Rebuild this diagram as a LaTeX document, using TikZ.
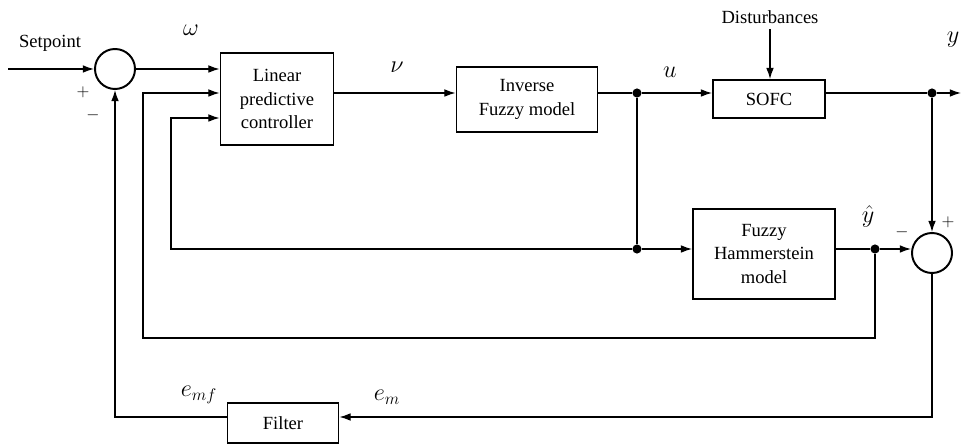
\documentclass[tikz,border=0pt]{standalone}
\usepackage{fontspec}
\setmainfont{Liberation Serif}
\usetikzlibrary{arrows.meta}

\tikzset{
  block/.style={draw, line width=1.3pt, align=center, inner sep=0pt,
    font=\fontsize{13.2}{16.6}\selectfont},
  sumnode/.style={draw, circle, line width=1.4pt, minimum size=1cm, inner sep=0pt},
  dot/.style={circle, fill, minimum size=6.5pt, inner sep=0pt},
  arr/.style={-{Latex[length=8pt,width=5.5pt]}},
  sig/.style={font=\fontsize{17}{20}\selectfont},
  txt/.style={font=\fontsize{13.2}{16}\selectfont},
  sgn/.style={font=\fontsize{12}{14}\selectfont}
}

\begin{document}
\begin{tikzpicture}[x=0.025cm, y=-0.025cm, line width=0.9pt]
    \useasboundingbox (0,0) rectangle (961,446);

    % Forward path
    \coordinate (sp) at (8,69);
    \node[sumnode] (sum1) at (115,69) {};
    \node[block, minimum width=2.825cm, minimum height=2.3cm] (lpc) at (277,99) {Linear\\predictive\\controller};
    \node[block, minimum width=3.525cm, minimum height=1.625cm] (inv) at (527,99.5) {Inverse\\Fuzzy model};
    \node[dot] (d1) at (637,93) {};
    \node[block, minimum width=2.8cm, minimum height=0.95cm] (sofc) at (769,99) {SOFC};
    \node[dot] (d2) at (932,93) {};
    \coordinate (yout) at (961,93);
    \node[txt] (dist) at (770,17) {Disturbances};

    % Model path
    \node[block, minimum width=3.55cm, minimum height=2.25cm] (fhm) at (764,254) {Fuzzy\\Hammerstein\\model};
    \node[dot] (d3) at (637,249) {};
    \node[dot] (d4) at (875,249) {};
    \node[sumnode] (sum2) at (932,253) {};

    % Filter
    \node[block, minimum width=2.775cm, minimum height=1cm] (filt) at (283,423) {Filter};

    % Corner points of the loops
    \coordinate (l2) at (143,93);
    \coordinate (l3) at (171,118);
    \coordinate (b2) at (875,338);
    \coordinate (b1) at (932,417);

    % Connections
    \draw[arr] (sp) -- (sum1);
    \draw[arr] (sum1) -- (sum1 -| lpc.west);
    \draw[arr] (lpc.east |- d1) -- (inv.west |- d1);
    \draw (inv.east |- d1) -- (d1);
    \draw[arr] (d1) -- (sofc.west |- d1);
    \draw (sofc.east |- d1) -- (d2);
    \draw[arr] (d2) -- (yout);
    \draw[arr] (dist.south) -- (dist.south |- sofc.north);
    \draw[arr] (d2) -- (sum2);
    \draw (d1) -- (d3);
    \draw[arr] (d3) -- (d3 -| fhm.west);
    \draw (fhm.east |- d3) -- (d4);
    \draw[arr] (d4) -- (d4 -| sum2.west);
    \draw[arr] (d3) -| (l3) -- (l3 -| lpc.west);
    \draw[arr] (d4) -- (b2) -| (l2) -- (l2 -| lpc.west);
    \draw[arr] (sum2) -- (b1) -- (b1 -| filt.east);
    \draw[arr] (filt.west |- b1) -| (sum1.south);

    % Labels
    \node[txt] at (50,43) {Setpoint};
    \node[sig] at (191,30) {$\omega$};
    \node[sig] at (397,67) {$\nu$};
    \node[sig] at (670,72) {$u$};
    \node[sig] at (953,40) {$y$};
    \node[sig] at (868,216) {$\hat{y}$};
    \node[sig] at (199,395) {$e_{mf}$};
    \node[sig] at (387,397) {$e_{m}$};
    \node[sgn] at (83,92) {$+$};
    \node[sgn] at (93,115) {$-$};
    \node[sgn] at (948,222) {$+$};
    \node[sgn] at (902,232) {$-$};
\end{tikzpicture}
\end{document}
